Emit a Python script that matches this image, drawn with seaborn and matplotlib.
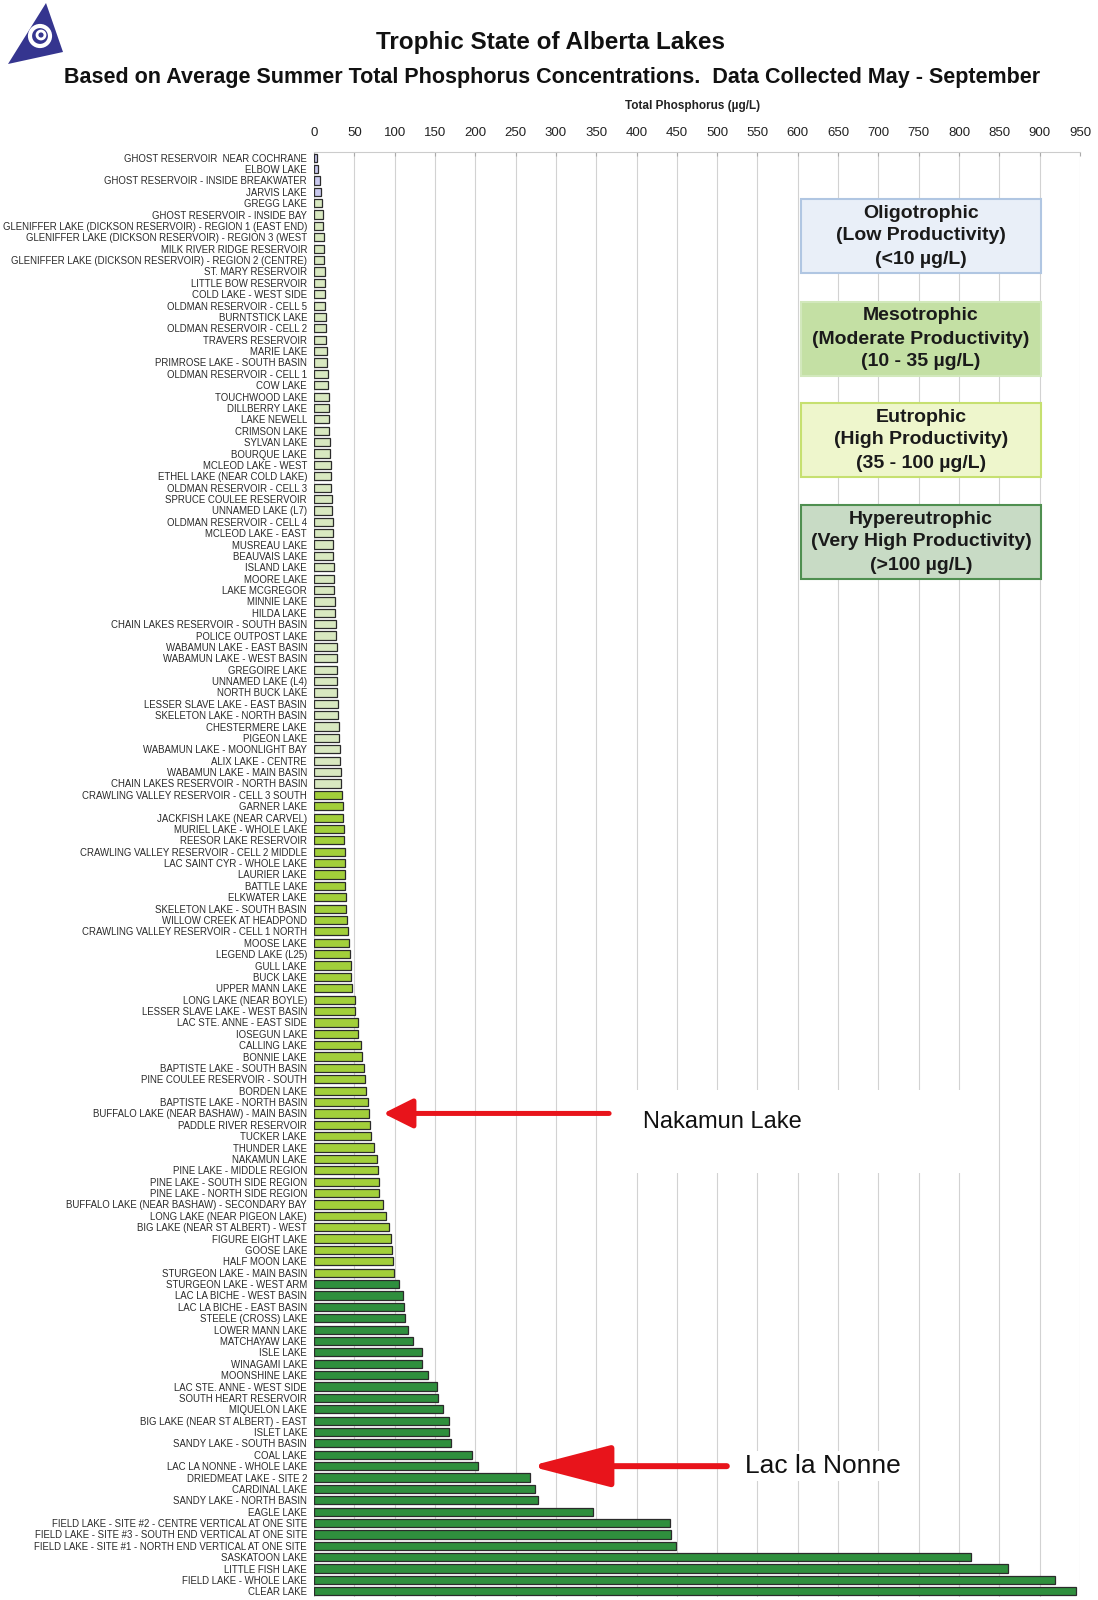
import matplotlib
matplotlib.use("Agg")
import matplotlib.pyplot as plt
import matplotlib.patches as mpatches
from matplotlib import font_manager
import seaborn as sns
import pandas as pd

lakes = [
    "GHOST RESERVOIR  NEAR COCHRANE", "ELBOW LAKE", "GHOST RESERVOIR - INSIDE BREAKWATER", "JARVIS LAKE",
    "GREGG LAKE", "GHOST RESERVOIR - INSIDE BAY", "GLENIFFER LAKE (DICKSON RESERVOIR) - REGION 1 (EAST END)",
    "GLENIFFER LAKE (DICKSON RESERVOIR) - REGION 3 (WEST", "MILK RIVER RIDGE RESERVOIR",
    "GLENIFFER LAKE (DICKSON RESERVOIR) - REGION 2 (CENTRE)", "ST. MARY RESERVOIR", "LITTLE BOW RESERVOIR",
    "COLD LAKE - WEST SIDE", "OLDMAN RESERVOIR - CELL 5", "BURNTSTICK LAKE", "OLDMAN RESERVOIR - CELL 2",
    "TRAVERS RESERVOIR", "MARIE LAKE", "PRIMROSE LAKE - SOUTH BASIN", "OLDMAN RESERVOIR - CELL 1", "COW LAKE",
    "TOUCHWOOD LAKE", "DILLBERRY LAKE", "LAKE NEWELL", "CRIMSON LAKE", "SYLVAN LAKE", "BOURQUE LAKE",
    "MCLEOD LAKE - WEST", "ETHEL LAKE (NEAR COLD LAKE)", "OLDMAN RESERVOIR - CELL 3", "SPRUCE COULEE RESERVOIR",
    "UNNAMED LAKE (L7)", "OLDMAN RESERVOIR - CELL 4", "MCLEOD LAKE - EAST", "MUSREAU LAKE", "BEAUVAIS LAKE",
    "ISLAND LAKE", "MOORE LAKE", "LAKE MCGREGOR", "MINNIE LAKE", "HILDA LAKE",
    "CHAIN LAKES RESERVOIR - SOUTH BASIN", "POLICE OUTPOST LAKE", "WABAMUN LAKE - EAST BASIN",
    "WABAMUN LAKE - WEST BASIN", "GREGOIRE LAKE", "UNNAMED LAKE (L4)", "NORTH BUCK LAKE",
    "LESSER SLAVE LAKE - EAST BASIN", "SKELETON LAKE - NORTH BASIN", "CHESTERMERE LAKE", "PIGEON LAKE",
    "WABAMUN LAKE - MOONLIGHT BAY", "ALIX LAKE - CENTRE", "WABAMUN LAKE - MAIN BASIN",
    "CHAIN LAKES RESERVOIR - NORTH BASIN", "CRAWLING VALLEY RESERVOIR - CELL 3 SOUTH", "GARNER LAKE",
    "JACKFISH LAKE (NEAR CARVEL)", "MURIEL LAKE - WHOLE LAKE", "REESOR LAKE RESERVOIR",
    "CRAWLING VALLEY RESERVOIR - CELL 2 MIDDLE", "LAC SAINT CYR - WHOLE LAKE", "LAURIER LAKE", "BATTLE LAKE",
    "ELKWATER LAKE", "SKELETON LAKE - SOUTH BASIN", "WILLOW CREEK AT HEADPOND",
    "CRAWLING VALLEY RESERVOIR - CELL 1 NORTH", "MOOSE LAKE", "LEGEND LAKE (L25)", "GULL LAKE", "BUCK LAKE",
    "UPPER MANN LAKE", "LONG LAKE (NEAR BOYLE)", "LESSER SLAVE LAKE - WEST BASIN", "LAC STE. ANNE - EAST SIDE",
    "IOSEGUN LAKE", "CALLING LAKE", "BONNIE LAKE", "BAPTISTE LAKE - SOUTH BASIN", "PINE COULEE RESERVOIR - SOUTH",
    "BORDEN LAKE", "BAPTISTE LAKE - NORTH BASIN", "BUFFALO LAKE (NEAR BASHAW) - MAIN BASIN",
    "PADDLE RIVER RESERVOIR", "TUCKER LAKE", "THUNDER LAKE", "NAKAMUN LAKE", "PINE LAKE - MIDDLE REGION",
    "PINE LAKE - SOUTH SIDE REGION", "PINE LAKE - NORTH SIDE REGION",
    "BUFFALO LAKE (NEAR BASHAW) - SECONDARY BAY", "LONG LAKE (NEAR PIGEON LAKE)",
    "BIG LAKE (NEAR ST ALBERT) - WEST", "FIGURE EIGHT LAKE", "GOOSE LAKE", "HALF MOON LAKE",
    "STURGEON LAKE - MAIN BASIN", "STURGEON LAKE - WEST ARM", "LAC LA BICHE - WEST BASIN",
    "LAC LA BICHE - EAST BASIN", "STEELE (CROSS) LAKE", "LOWER MANN LAKE", "MATCHAYAW LAKE", "ISLE LAKE",
    "WINAGAMI LAKE", "MOONSHINE LAKE", "LAC STE. ANNE - WEST SIDE", "SOUTH HEART RESERVOIR", "MIQUELON LAKE",
    "BIG LAKE (NEAR ST ALBERT) - EAST", "ISLET LAKE", "SANDY LAKE - SOUTH BASIN", "COAL LAKE",
    "LAC LA NONNE - WHOLE LAKE", "DRIEDMEAT LAKE - SITE 2", "CARDINAL LAKE", "SANDY LAKE - NORTH BASIN",
    "EAGLE LAKE", "FIELD LAKE - SITE #2 - CENTRE VERTICAL AT ONE SITE",
    "FIELD LAKE - SITE #3 - SOUTH END VERTICAL AT ONE SITE",
    "FIELD LAKE - SITE #1 - NORTH END VERTICAL AT ONE SITE", "SASKATOON LAKE", "LITTLE FISH LAKE",
    "FIELD LAKE - WHOLE LAKE", "CLEAR LAKE",
]

# average summer total phosphorus (ug/L)
tp = [
    4, 5, 7, 9, 10, 11, 11, 12, 12, 13, 14, 14, 14, 14, 15, 15, 15, 16, 16, 17, 17, 18, 18, 19, 19, 20, 20,
    21, 21, 21, 22, 22, 23, 23, 24, 24, 25, 25, 25, 26, 26, 27, 27, 28, 28, 29, 29, 29, 30, 30, 31, 31, 32,
    32, 33, 34, 35, 36, 36, 37, 37, 38, 38, 39, 39, 40, 40, 41, 42, 43, 45, 46, 46, 47, 51, 51, 54, 54, 58,
    59, 62, 63, 64, 67, 68, 69, 71, 74, 78, 79, 80, 81, 85, 89, 93, 95, 97, 98, 99, 106, 110, 111, 113,
    116, 123, 134, 134, 141, 152, 154, 160, 167, 167, 170, 196, 203, 268, 274, 278, 346, 442, 443, 449,
    815, 861, 919, 945,
]

states = ["Oligotrophic", "Mesotrophic", "Eutrophic", "Hypereutrophic"]
state_bins = [0, 10, 35, 100, 10000]
bar_colors = ["#c8c8ee", "#d8e8c0", "#a2cf3a", "#2f8f3d"]
box_text = [
    ["Oligotrophic", "(Low Productivity)", "(<10 µg/L)"],
    ["Mesotrophic", "(Moderate Productivity)", "(10 - 35 µg/L)"],
    ["Eutrophic", "(High Productivity)", "(35 - 100 µg/L)"],
    ["Hypereutrophic", "(Very High Productivity)", "(>100 µg/L)"],
]
box_face = ["#e9eff8", "#c4e0a4", "#eef6cc", "#c8dbc5"]
box_edge = ["#b0c6e2", "#d2e8bc", "#c6e070", "#4f8f50"]

df = pd.DataFrame({"lake": lakes, "tp": tp})
df["state"] = pd.cut(df["tp"], bins=state_bins, labels=states, right=False).astype(str)

names = {f.name for f in font_manager.fontManager.ttflist}
narrow = "Liberation Sans Narrow" if "Liberation Sans Narrow" in names else "Liberation Sans"

sns.set_style("white")
plt.rcParams["font.family"] = ["Liberation Sans", "DejaVu Sans"]

W, H = 1098, 1600
fx = lambda px: px / W
fy = lambda py: 1 - py / H

fig = plt.figure(figsize=(10.98, 16), dpi=100)
ax = fig.add_axes([fx(314), fy(1597), fx(1080) - fx(314), fy(152) - fy(1597)])

sns.barplot(data=df, x="tp", y="lake", hue="state", hue_order=states, order=lakes,
            palette=dict(zip(states, bar_colors)), saturation=1, dodge=False, orient="h", width=0.72,
            edgecolor="#2b2b2b", linewidth=0.9, legend=False, ax=ax)

ax.set_xlim(0, 950)
ax.set_xticks(range(0, 951, 50))
ax.xaxis.tick_top()
ax.tick_params(axis="x", labelsize=9.5, pad=9, length=3, direction="in", color="#aaaaaa", labelcolor="#222222")
ax.tick_params(axis="y", labelsize=6.9, pad=5, length=0, labelcolor="#2a2a2a")
ax.grid(axis="x", color="#d2d2d2", lw=0.8)
ax.set_axisbelow(True)
for s in ["left", "right", "bottom"]:
    ax.spines[s].set_visible(False)
ax.spines["top"].set_color("#cccccc")
ax.spines["top"].set_linewidth(0.8)
ax.set_xlabel("")
ax.set_ylabel("")

fig.text(fx(693), fy(106), "Total Phosphorus (µg/L)", ha="center", va="center", fontsize=8.5,
         fontweight="bold", color="#222222")
fig.text(fx(551), fy(43), "Trophic State of Alberta Lakes", ha="center", va="center", fontsize=17.5,
         fontweight="bold", family=narrow, color="#111111")
fig.text(fx(552), fy(78), "Based on Average Summer Total Phosphorus Concentrations.  Data Collected May - September",
         ha="center", va="center", fontsize=15.5, fontweight="bold", family=narrow, color="#111111")

# trophic class boxes
box_tops = [199, 302, 403, 505]
for top, lines, fc, ec in zip(box_tops, box_text, box_face, box_edge):
    fig.add_artist(mpatches.Rectangle((fx(801), fy(top + 74)), fx(1041) - fx(801), 74 / H,
                                      facecolor=fc, edgecolor=ec, lw=1.5, transform=fig.transFigure, zorder=3))
    for k, line in enumerate(lines):
        fig.text(fx(921), fy(top + 14 + 23 * k), line, ha="center", va="center", fontsize=14,
                 fontweight="bold", color="#1a1a1a", zorder=4)

# annotation: Nakamun Lake
fig.add_artist(mpatches.Rectangle((fx(624), fy(1173)), fx(975) - fx(624), 83 / H, facecolor="white",
                                  edgecolor="none", transform=fig.transFigure, zorder=2))
fig.text(fx(643), fy(1122), "Nakamun Lake", ha="left", va="center", fontsize=17, color="#111111", zorder=3)
row_b = lakes.index("BUFFALO LAKE (NEAR BASHAW) - MAIN BASIN")
ax.annotate("", xy=(86, row_b), xytext=(366, row_b),
            arrowprops=dict(arrowstyle="-|>,head_length=0.9,head_width=0.45", color="#e8141b", lw=3.6,
                            mutation_scale=20, shrinkA=0, shrinkB=0))

# annotation: Lac la Nonne
row_n = lakes.index("LAC LA NONNE - WHOLE LAKE")
ax.text(535, row_n, "Lac la Nonne", ha="left", va="center", fontsize=19,
        family=narrow, color="#111111", bbox=dict(facecolor="white", edgecolor="none", pad=2))
ax.annotate("", xy=(268, row_n), xytext=(512, row_n),
            arrowprops=dict(arrowstyle="-|>,head_length=2.5,head_width=0.65", color="#e8141b", lw=4.3,
                            mutation_scale=20, shrinkA=0, shrinkB=0))

# logo
fig.add_artist(mpatches.Polygon([(fx(46), fy(3)), (fx(8), fy(64)), (fx(63), fy(52))], closed=True,
                                facecolor="#35358f", edgecolor="none", transform=fig.transFigure))
fig.add_artist(mpatches.Ellipse((fx(40), fy(36)), 20 / W, 20 / H, facecolor="none", edgecolor="white",
                                lw=3, transform=fig.transFigure))
fig.add_artist(mpatches.Ellipse((fx(41), fy(35)), 8 / W, 8 / H, facecolor="none", edgecolor="white",
                                lw=2, transform=fig.transFigure))

fig.savefig("out.png", dpi=100)
